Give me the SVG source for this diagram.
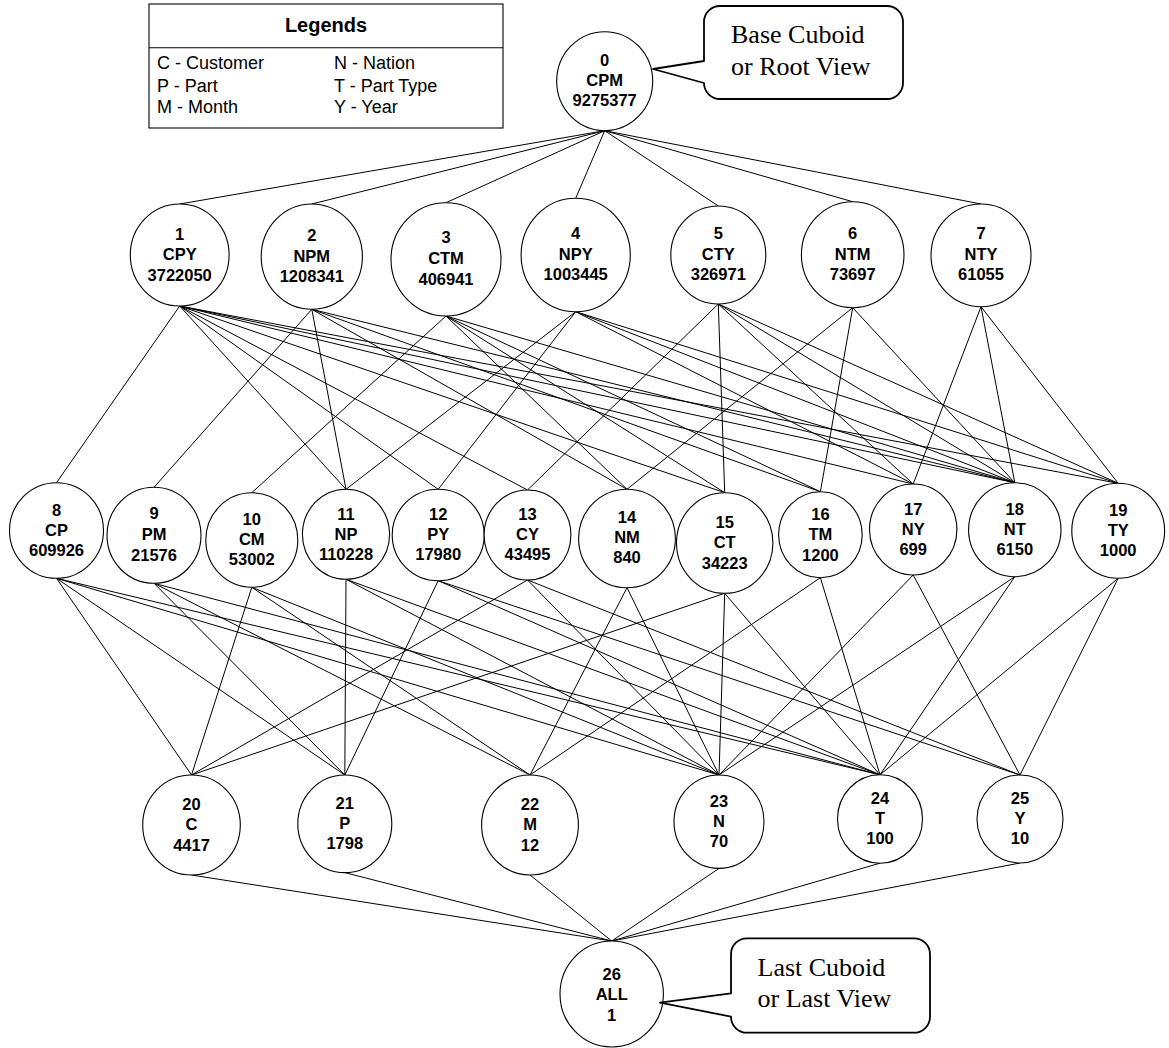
<svg xmlns="http://www.w3.org/2000/svg" width="1169" height="1048" viewBox="0 0 1169 1048">
  <style>
    .node ellipse { fill: #ffffff; stroke: #000000; stroke-width: 1.1; }
    .node text { font-family: "Liberation Sans", Arial, sans-serif; font-size: 16.5px; font-weight: bold; text-anchor: middle; fill: #000000; }
    #connectors line { stroke: #000000; stroke-width: 1; }
    .callout path { fill: #ffffff; stroke: #000000; stroke-width: 1.8; stroke-linejoin: round; }
    .callout text { font-family: "Liberation Serif", "Times New Roman", serif; font-size: 26px; fill: #000000; }
    .legend rect, .legend line { fill: none; stroke: #000000; stroke-width: 1.1; }
    .legend text { font-family: "Liberation Sans", Arial, sans-serif; font-size: 18px; fill: #000000; }
    .legend .title { font-size: 20px; font-weight: bold; text-anchor: middle; }
  </style>
  <rect x="0" y="0" width="1169" height="1048" fill="#ffffff"/>

  <!-- Connectors: parent bottom to child top -->
  <g id="connectors">
    <!-- root to 3-attribute views -->
    <line x1="604.7" y1="130.7" x2="179.7" y2="204"/>
    <line x1="604.7" y1="130.7" x2="311.8" y2="204"/>
    <line x1="604.7" y1="130.7" x2="446" y2="202.7"/>
    <line x1="604.7" y1="130.7" x2="575.7" y2="198.3"/>
    <line x1="604.7" y1="130.7" x2="718.3" y2="206"/>
    <line x1="604.7" y1="130.7" x2="852.7" y2="201.7"/>
    <line x1="604.7" y1="130.7" x2="981" y2="204"/>
    <!-- 1 CPY -->
    <line x1="179.7" y1="306" x2="56.5" y2="482.7"/>
    <line x1="179.7" y1="306" x2="346" y2="489.3"/>
    <line x1="179.7" y1="306" x2="438.2" y2="489.3"/>
    <line x1="179.7" y1="306" x2="527.5" y2="490"/>
    <line x1="179.7" y1="306" x2="724.7" y2="492.7"/>
    <line x1="179.7" y1="306" x2="913.2" y2="484"/>
    <line x1="179.7" y1="306" x2="1014.8" y2="482.7"/>
    <line x1="179.7" y1="306" x2="1118.2" y2="483.3"/>
    <!-- 2 NPM -->
    <line x1="311.8" y1="309.3" x2="154" y2="487.3"/>
    <line x1="311.8" y1="309.3" x2="346" y2="489.3"/>
    <line x1="311.8" y1="309.3" x2="627" y2="489.3"/>
    <line x1="311.8" y1="309.3" x2="820.4" y2="491.7"/>
    <line x1="311.8" y1="309.3" x2="1014.8" y2="482.7"/>
    <!-- 3 CTM -->
    <line x1="446" y1="316" x2="251.8" y2="492.7"/>
    <line x1="446" y1="316" x2="627" y2="489.3"/>
    <line x1="446" y1="316" x2="724.7" y2="492.7"/>
    <line x1="446" y1="316" x2="820.4" y2="491.7"/>
    <line x1="446" y1="316" x2="1014.8" y2="482.7"/>
    <!-- 4 NPY -->
    <line x1="575.7" y1="311.7" x2="346" y2="489.3"/>
    <line x1="575.7" y1="311.7" x2="438.2" y2="489.3"/>
    <line x1="575.7" y1="311.7" x2="913.2" y2="484"/>
    <line x1="575.7" y1="311.7" x2="1014.8" y2="482.7"/>
    <line x1="575.7" y1="311.7" x2="1118.2" y2="483.3"/>
    <!-- 5 CTY -->
    <line x1="718.3" y1="304" x2="527.5" y2="490"/>
    <line x1="718.3" y1="304" x2="724.7" y2="492.7"/>
    <line x1="718.3" y1="304" x2="913.2" y2="484"/>
    <line x1="718.3" y1="304" x2="1014.8" y2="482.7"/>
    <line x1="718.3" y1="304" x2="1118.2" y2="483.3"/>
    <!-- 6 NTM -->
    <line x1="852.7" y1="307.7" x2="627" y2="489.3"/>
    <line x1="852.7" y1="307.7" x2="820.4" y2="491.7"/>
    <line x1="852.7" y1="307.7" x2="1014.8" y2="482.7"/>
    <!-- 7 NTY -->
    <line x1="981" y1="306.7" x2="913.2" y2="484"/>
    <line x1="981" y1="306.7" x2="1014.8" y2="482.7"/>
    <line x1="981" y1="306.7" x2="1118.2" y2="483.3"/>
    <!-- 8 CP -->
    <line x1="56.5" y1="578.3" x2="191.5" y2="775"/>
    <line x1="56.5" y1="578.3" x2="344.8" y2="775"/>
    <line x1="56.5" y1="578.3" x2="719" y2="775"/>
    <line x1="56.5" y1="578.3" x2="880" y2="774.8"/>
    <!-- 9 PM -->
    <line x1="154" y1="583.3" x2="344.8" y2="775"/>
    <line x1="154" y1="583.3" x2="530" y2="775"/>
    <line x1="154" y1="583.3" x2="880" y2="774.8"/>
    <!-- 10 CM -->
    <line x1="251.8" y1="587.3" x2="191.5" y2="775"/>
    <line x1="251.8" y1="587.3" x2="530" y2="775"/>
    <line x1="251.8" y1="587.3" x2="719" y2="775"/>
    <!-- 11 NP -->
    <line x1="346" y1="579.3" x2="344.8" y2="775"/>
    <line x1="346" y1="579.3" x2="719" y2="775"/>
    <line x1="346" y1="579.3" x2="880" y2="774.8"/>
    <!-- 12 PY -->
    <line x1="438.2" y1="580.7" x2="344.8" y2="775"/>
    <line x1="438.2" y1="580.7" x2="880" y2="774.8"/>
    <line x1="438.2" y1="580.7" x2="1020" y2="775"/>
    <!-- 13 CY -->
    <line x1="527.5" y1="580" x2="191.5" y2="775"/>
    <line x1="527.5" y1="580" x2="719" y2="775"/>
    <line x1="527.5" y1="580" x2="1020" y2="775"/>
    <!-- 14 NM -->
    <line x1="627" y1="587.7" x2="530" y2="775"/>
    <line x1="627" y1="587.7" x2="719" y2="775"/>
    <!-- 15 CT -->
    <line x1="724.7" y1="593.3" x2="191.5" y2="775"/>
    <line x1="724.7" y1="593.3" x2="719" y2="775"/>
    <line x1="724.7" y1="593.3" x2="880" y2="774.8"/>
    <!-- 16 TM -->
    <line x1="820.4" y1="577.7" x2="530" y2="775"/>
    <line x1="820.4" y1="577.7" x2="880" y2="774.8"/>
    <!-- 17 NY -->
    <line x1="913.2" y1="575" x2="719" y2="775"/>
    <line x1="913.2" y1="575" x2="1020" y2="775"/>
    <!-- 18 NT -->
    <line x1="1014.8" y1="576.7" x2="719" y2="775"/>
    <line x1="1014.8" y1="576.7" x2="880" y2="774.8"/>
    <!-- 19 TY -->
    <line x1="1118.2" y1="578.3" x2="880" y2="774.8"/>
    <line x1="1118.2" y1="578.3" x2="1020" y2="775"/>
    <!-- single-attribute views to ALL -->
    <line x1="191.5" y1="875" x2="611.7" y2="941"/>
    <line x1="344.8" y1="872.6" x2="611.7" y2="941"/>
    <line x1="530" y1="875" x2="611.7" y2="941"/>
    <line x1="719" y1="868.4" x2="611.7" y2="941"/>
    <line x1="880" y1="863.2" x2="611.7" y2="941"/>
    <line x1="1020" y1="863" x2="611.7" y2="941"/>
  </g>

  <!-- Legend -->
  <g id="legend" class="legend">
    <rect x="149" y="4" width="354" height="124"/>
    <line x1="149" y1="47.7" x2="503" y2="47.7"/>
    <text class="title" x="326" y="31.7">Legends</text>
    <text x="157" y="69">C - Customer</text>
    <text x="157" y="91.7">P - Part</text>
    <text x="157" y="113.3">M - Month</text>
    <text x="334" y="69">N - Nation</text>
    <text x="334" y="91.7">T - Part Type</text>
    <text x="334" y="113.3">Y - Year</text>
  </g>

  <!-- Nodes -->
  <g id="node0" class="node"><ellipse cx="604.7" cy="81.2" rx="48" ry="49.5"/>
    <text y="65.8"><tspan x="604.7">0</tspan><tspan x="604.7" dy="20">CPM</tspan><tspan x="604.7" dy="20">9275377</tspan></text></g>

  <g id="node1" class="node"><ellipse cx="179.7" cy="255" rx="49.4" ry="51"/>
    <text y="239.8"><tspan x="179.7">1</tspan><tspan x="179.7" dy="20.5">CPY</tspan><tspan x="179.7" dy="20.5">3722050</tspan></text></g>
  <g id="node2" class="node"><ellipse cx="311.8" cy="256.65" rx="50.6" ry="52.65"/>
    <text y="240.8"><tspan x="311.8">2</tspan><tspan x="311.8" dy="20.8">NPM</tspan><tspan x="311.8" dy="20.8">1208341</tspan></text></g>
  <g id="node3" class="node"><ellipse cx="446" cy="259.35" rx="55" ry="56.65"/>
    <text y="243.1"><tspan x="446">3</tspan><tspan x="446" dy="20.8">CTM</tspan><tspan x="446" dy="20.8">406941</tspan></text></g>
  <g id="node4" class="node"><ellipse cx="575.7" cy="255" rx="54.6" ry="56.7"/>
    <text y="239.1"><tspan x="575.7">4</tspan><tspan x="575.7" dy="20.5">NPY</tspan><tspan x="575.7" dy="20.5">1003445</tspan></text></g>
  <g id="node5" class="node"><ellipse cx="718.3" cy="255" rx="47.5" ry="49"/>
    <text y="239.1"><tspan x="718.3">5</tspan><tspan x="718.3" dy="20.6">CTY</tspan><tspan x="718.3" dy="20.6">326971</tspan></text></g>
  <g id="node6" class="node"><ellipse cx="852.7" cy="254.7" rx="51.3" ry="53"/>
    <text y="239.1"><tspan x="852.7">6</tspan><tspan x="852.7" dy="20.5">NTM</tspan><tspan x="852.7" dy="20.5">73697</tspan></text></g>
  <g id="node7" class="node"><ellipse cx="981" cy="255.35" rx="50" ry="51.35"/>
    <text y="239.1"><tspan x="981">7</tspan><tspan x="981" dy="20.5">NTY</tspan><tspan x="981" dy="20.5">61055</tspan></text></g>

  <g id="node8" class="node"><ellipse cx="56.5" cy="530.5" rx="47" ry="47.8"/>
    <text y="515.8"><tspan x="56.5">8</tspan><tspan x="56.5" dy="20">CP</tspan><tspan x="56.5" dy="20">609926</tspan></text></g>
  <g id="node9" class="node"><ellipse cx="154" cy="535.3" rx="47" ry="48"/>
    <text y="519.1"><tspan x="154">9</tspan><tspan x="154" dy="20.8">PM</tspan><tspan x="154" dy="20.8">21576</tspan></text></g>
  <g id="node10" class="node"><ellipse cx="251.8" cy="540" rx="46" ry="47.3"/>
    <text y="524.8"><tspan x="251.8">10</tspan><tspan x="251.8" dy="20">CM</tspan><tspan x="251.8" dy="20">53002</tspan></text></g>
  <g id="node11" class="node"><ellipse cx="346" cy="534.3" rx="43.6" ry="45"/>
    <text y="519.8"><tspan x="346">11</tspan><tspan x="346" dy="20.2">NP</tspan><tspan x="346" dy="20.2">110228</tspan></text></g>
  <g id="node12" class="node"><ellipse cx="438.2" cy="535" rx="46" ry="45.7"/>
    <text y="519.8"><tspan x="438.2">12</tspan><tspan x="438.2" dy="20.2">PY</tspan><tspan x="438.2" dy="20.2">17980</tspan></text></g>
  <g id="node13" class="node"><ellipse cx="527.5" cy="535" rx="43.4" ry="45"/>
    <text y="519.8"><tspan x="527.5">13</tspan><tspan x="527.5" dy="20.2">CY</tspan><tspan x="527.5" dy="20.2">43495</tspan></text></g>
  <g id="node14" class="node"><ellipse cx="627" cy="538.5" rx="48.4" ry="49.2"/>
    <text y="523.1"><tspan x="627">14</tspan><tspan x="627" dy="20">NM</tspan><tspan x="627" dy="20">840</tspan></text></g>
  <g id="node15" class="node"><ellipse cx="724.7" cy="543" rx="48.2" ry="50.3"/>
    <text y="527.5"><tspan x="724.7">15</tspan><tspan x="724.7" dy="20.5">CT</tspan><tspan x="724.7" dy="20.5">34223</tspan></text></g>
  <g id="node16" class="node"><ellipse cx="820.4" cy="534.7" rx="41.8" ry="43"/>
    <text y="519.8"><tspan x="820.4">16</tspan><tspan x="820.4" dy="20.5">TM</tspan><tspan x="820.4" dy="20.5">1200</tspan></text></g>
  <g id="node17" class="node"><ellipse cx="913.2" cy="529.5" rx="43.7" ry="45.5"/>
    <text y="514.8"><tspan x="913.2">17</tspan><tspan x="913.2" dy="20.2">NY</tspan><tspan x="913.2" dy="20.2">699</tspan></text></g>
  <g id="node18" class="node"><ellipse cx="1014.8" cy="529.7" rx="46.2" ry="47"/>
    <text y="514.8"><tspan x="1014.8">18</tspan><tspan x="1014.8" dy="20.2">NT</tspan><tspan x="1014.8" dy="20.2">6150</tspan></text></g>
  <g id="node19" class="node"><ellipse cx="1118.2" cy="530.8" rx="46.4" ry="47.5"/>
    <text y="515.8"><tspan x="1118.2">19</tspan><tspan x="1118.2" dy="20">TY</tspan><tspan x="1118.2" dy="20">1000</tspan></text></g>

  <g id="node20" class="node"><ellipse cx="191.5" cy="825" rx="48.8" ry="50"/>
    <text y="809.8"><tspan x="191.5">20</tspan><tspan x="191.5" dy="20.5">C</tspan><tspan x="191.5" dy="20.5">4417</tspan></text></g>
  <g id="node21" class="node"><ellipse cx="344.8" cy="823.8" rx="47" ry="48.8"/>
    <text y="809.1"><tspan x="344.8">21</tspan><tspan x="344.8" dy="20">P</tspan><tspan x="344.8" dy="20">1798</tspan></text></g>
  <g id="node22" class="node"><ellipse cx="530" cy="825" rx="48.4" ry="50"/>
    <text y="809.8"><tspan x="530">22</tspan><tspan x="530" dy="20.5">M</tspan><tspan x="530" dy="20.5">12</tspan></text></g>
  <g id="node23" class="node"><ellipse cx="719" cy="821.7" rx="45" ry="46.7"/>
    <text y="806.5"><tspan x="719">23</tspan><tspan x="719" dy="20">N</tspan><tspan x="719" dy="20">70</tspan></text></g>
  <g id="node24" class="node"><ellipse cx="880" cy="819" rx="42.5" ry="44.2"/>
    <text y="804.1"><tspan x="880">24</tspan><tspan x="880" dy="20">T</tspan><tspan x="880" dy="20">100</tspan></text></g>
  <g id="node25" class="node"><ellipse cx="1020" cy="819" rx="43" ry="44"/>
    <text y="804.1"><tspan x="1020">25</tspan><tspan x="1020" dy="20">Y</tspan><tspan x="1020" dy="20">10</tspan></text></g>

  <g id="node26" class="node"><ellipse cx="611.7" cy="994" rx="51.7" ry="53"/>
    <text y="980.1"><tspan x="611.7">26</tspan><tspan x="611.7" dy="20.3">ALL</tspan><tspan x="611.7" dy="20.3">1</tspan></text></g>

  <!-- Callouts -->
  <g id="callout-root" class="callout">
    <path d="M 720 6 H 887 A 16 16 0 0 1 903 22 V 83 A 16 16 0 0 1 887 99 H 720 A 16 16 0 0 1 704 83 L 653 69 L 704 61 V 22 A 16 16 0 0 1 720 6 Z"/>
    <text x="731" y="42.7">Base Cuboid</text>
    <text x="731" y="74.5">or Root View</text>
  </g>
  <g id="callout-last" class="callout">
    <path d="M 747 938.3 H 914 A 16 16 0 0 1 930 954.3 V 1016.7 A 16 16 0 0 1 914 1032.7 H 747 A 16 16 0 0 1 731 1016.7 L 660 1002.7 L 731 993.3 V 954.3 A 16 16 0 0 1 747 938.3 Z"/>
    <text x="757.5" y="976">Last Cuboid</text>
    <text x="757.5" y="1006.7">or Last View</text>
  </g>
</svg>
